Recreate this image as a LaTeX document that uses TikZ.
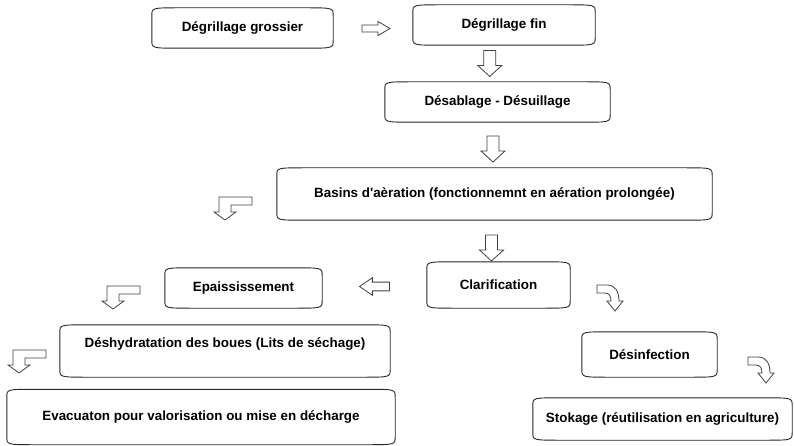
\documentclass[tikz,border=0pt]{standalone}
\usepackage{fontspec}
\setmainfont{Liberation Sans}
\usepackage{tikz}
\usetikzlibrary{calc}

\begin{document}
\begin{tikzpicture}[
    x=1pt, y=-1pt,
    box/.style={
        draw=none,
        inner sep=0pt,
        align=center,
        font=\fontsize{13.4}{15}\selectfont\bfseries
    },
    outline/.style={draw=black!85, line width=0.9pt},
    hollow/.style={draw=black!75, line width=0.8pt, fill=white, line join=miter},
    vblock/.pic={
        \draw[hollow] (-6,-13) -- (6,-13) -- (6,2) -- (12,2) -- (0,13)
            -- (-12,2) -- (-6,2) -- cycle;
    },
    hblock/.pic={
        \draw[hollow] (-14,-3.5) -- (2,-3.5) -- (2,-7) -- (14,0) -- (2,7)
            -- (2,3.5) -- (-14,3.5) -- cycle;
    },
    bentleft/.pic={
        \draw[hollow] (0,0) -- (33,0) -- (33,8) -- (12,8) -- (12,15) -- (17,15)
            -- (6,23) -- (-5,15) -- (0,15) -- cycle;
    },
    bentright/.pic={
        \draw[hollow] (0,0) -- (10,0) .. controls (18,0) and (22,6) .. (22,16)
            -- (26,16) -- (18,26) -- (10,16) -- (14,16)
            .. controls (14,11) and (12,8) .. (8,8) -- (0,8) -- cycle;
    }
]

\useasboundingbox (0,0) rectangle (794,446);

% PRETRAITEMENT
\node[box, minimum width=181pt, minimum height=40pt] (grossier) at (242.5,28)
{Dégrillage grossier};

\node[box, minimum width=182pt, minimum height=40pt] (fin) at (504,25)
{Dégrillage fin};

\node[box, minimum width=225pt, minimum height=40pt] (desablage) at (497.5,102)
{Désablage - Désuillage};

% TRAITEMENT BIOLOGIQUE
\node[box, minimum width=435pt, minimum height=52pt] (basins) at (494.5,194)
{Basins d\textquotesingle aèration (fonctionnemnt en aération prolongée)};

\node[box, minimum width=143pt, minimum height=46pt] (clarif) at (498.5,285)
{Clarification};

% BOUES
\node[box, minimum width=157pt, minimum height=40pt] (epais) at (243.5,288)
{Epaississement};

\node[box, minimum width=330pt, minimum height=52pt, text depth=16pt] (deshyd) at (225,351)
{Déshydratation des boues (Lits de séchage)};

\node[box, minimum width=388pt, minimum height=55pt] (evac) at (201,417)
{Evacuaton pour valorisation ou mise en décharge};

% EAU TRAITEE
\node[box, minimum width=135pt, minimum height=45pt] (desinf) at (649.5,354.5)
{Désinfection};

\node[box, minimum width=259pt, minimum height=42pt] (stokage) at (662.5,419)
{Stokage (réutilisation en agriculture)};

\foreach \n in {grossier,fin,desablage,basins,clarif,epais,deshyd,evac,desinf,stokage}
    \draw[outline] ($(\n.north west)+(0,8)$) .. controls (\n.north west) .. ($(\n.north west)+(28,0)$)
        -- ($(\n.north east)+(-28,0)$) .. controls (\n.north east) .. ($(\n.north east)+(0,8)$)
        -- ($(\n.south east)+(0,-8)$) .. controls (\n.south east) .. ($(\n.south east)+(-28,0)$)
        -- ($(\n.south west)+(28,0)$) .. controls (\n.south west) .. ($(\n.south west)+(0,-8)$)
        -- cycle;

% FLECHES
\pic at ($(grossier.east)!0.5!(fin.west)+(3,2)$) {hblock};
\pic at ($(fin.south)!0.5!(desablage.north)+(-11,0)$) {vblock};
\pic at ($(desablage.south)!0.5!(basins.north)+(-3,4)$) {vblock};
\pic at ($(basins.south)!0.5!(clarif.north)+(-5,7)$) {vblock};
\pic[xscale=-1.07, yscale=1.25] at ($(clarif.west)!0.5!(epais.east)$) {hblock};

\pic at (219,197) {bentleft};
\pic at (107,286) {bentleft};
\pic at (13,350) {bentleft};
\pic at (597,285) {bentright};
\pic at (748,357) {bentright};

\end{tikzpicture}
\end{document}
